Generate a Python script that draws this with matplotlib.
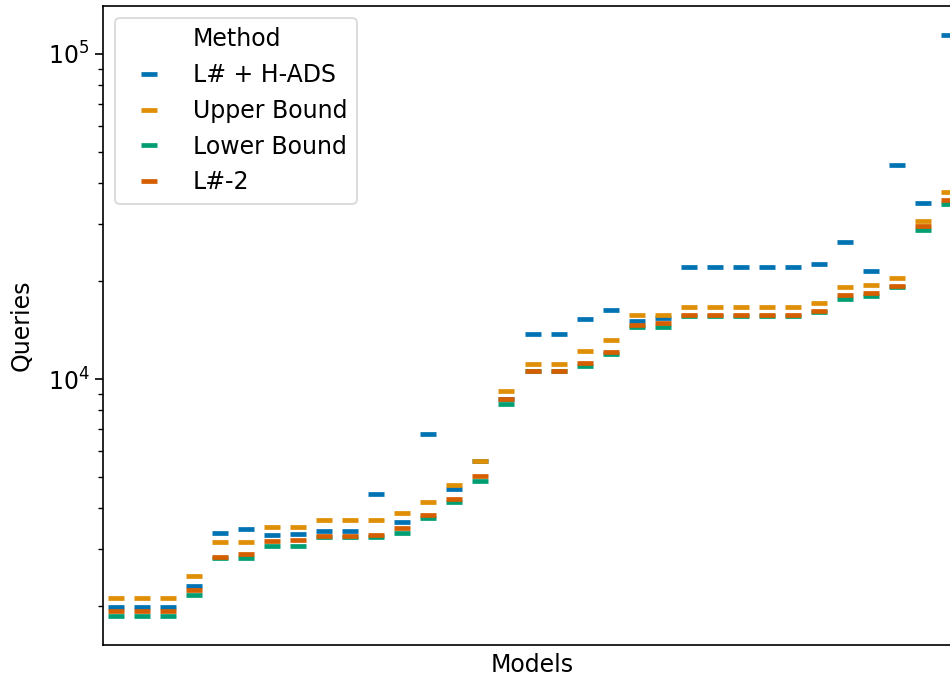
import matplotlib
matplotlib.use("Agg")
import matplotlib.pyplot as plt
from matplotlib.lines import Line2D
import numpy as np

plt.rcParams['font.family'] = ['DejaVu Sans']

models = [f"M{i}" for i in range(33)]

lsharp_hads = [1993, 1993, 1993, 2312, 3358, 3455, 3312, 3328, 3414, 3414,
               4419, 3623, 6758, 4589, 5592, 8697, 13727, 13727, 15329, 16308,
               15048, 15352, 22118, 22118, 22118, 22118, 22118, 22588, 26306, 21450,
               45542, 34882, 114160]
upper_bound = [2115, 2115, 2115, 2472, 3151, 3151, 3513, 3513, 3676, 3676,
               3676, 3862, 4192, 4710, 5592, 9165, 11145, 11145, 12195, 13182,
               15768, 15782, 16690, 16690, 16690, 16690, 16690, 17099, 19231, 19424,
               20499, 30693, 37712]
lower_bound = [1865, 1865, 1865, 2165, 2814, 2814, 3063, 3063, 3265, 3261,
               3261, 3366, 3727, 4175, 4866, 8359, 10550, 10550, 10989, 11913,
               14484, 14504, 15620, 15620, 15620, 15620, 15620, 16130, 17664, 18044,
               19196, 28745, 34638]
lsharp2 = [1928, 1928, 1928, 2239, 2840, 2901, 3167, 3189, 3296, 3296,
           3305, 3488, 3807, 4273, 5031, 8697, 10584, 10584, 11224, 12134,
           14629, 14903, 15701, 15701, 15701, 15701, 15701, 16191, 18095, 18430,
           19373, 29506, 35480]

series = [("L# + H-ADS", lsharp_hads, "#0173b2"),
          ("Upper Bound", upper_bound, "#de8f05"),
          ("Lower Bound", lower_bound, "#029e73"),
          ("L#-2", lsharp2, "#d55e00")]

FS = 17

fig = plt.figure(figsize=(9.5, 6.77), dpi=100)
ax = fig.add_axes([103/950, 1-645/677, (962-103)/950, (645-6)/677])

x = np.arange(len(models))
for name, vals, col in series:
    ax.plot(x, vals, linestyle='none', marker='_', markersize=12,
            markeredgewidth=3.4, color=col, label=name)

ax.set_yscale('log')
ax.set_ylim(1519, 140500)
ax.set_xlim(-0.5, len(models) - 0.5)
ax.set_xticks([])
ax.set_xlabel("Models", fontsize=FS, labelpad=6)
ax.set_ylabel("Queries", fontsize=FS, labelpad=10)
ax.tick_params(axis='y', which='major', labelsize=FS, length=6, width=1.2)
ax.tick_params(axis='y', which='minor', length=3.5, width=1.0)
for s in ax.spines.values():
    s.set_linewidth(1.2)

handles = [Line2D([], [], linestyle='none', marker='')]
labels = ["Method"]
for name, vals, col in series:
    handles.append(Line2D([], [], linestyle='none', marker='_', markersize=12,
                          markeredgewidth=3.4, color=col))
    labels.append(name)
leg = ax.legend(handles, labels, loc='upper left', fontsize=FS,
                bbox_to_anchor=(0.0, 1.0), borderaxespad=0.5,
                handlelength=2.1, framealpha=0.8)
leg.get_frame().set_linewidth(1.2)

fig.savefig("out.png", dpi=100)
